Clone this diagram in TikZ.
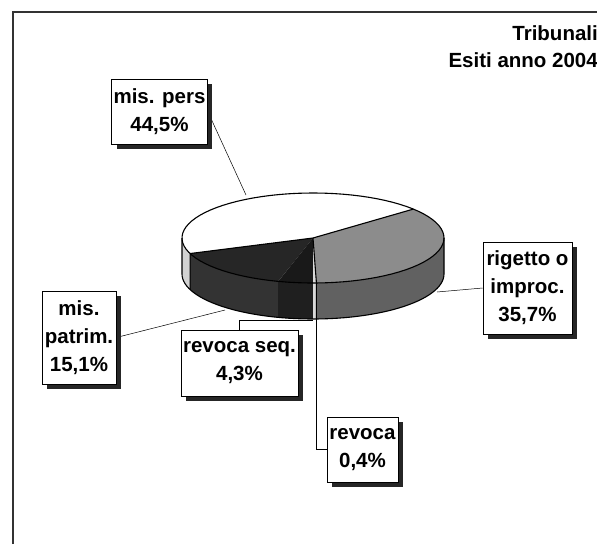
\documentclass[tikz,border=0pt]{standalone}
\usepackage{fontspec}
\setmainfont{Liberation Sans}
\usetikzlibrary{shadows}
\pgfdeclarelayer{back}
\pgfsetlayers{back,main}
\newcommand{\piewedge}[3]{\fill[#1] (313,238) -- plot[domain=#2:#3, samples=40] ({313+131*cos(\x)},{238-45*sin(\x)}) -- cycle;}
\newcommand{\pieband}[3]{\fill[#1] plot[domain=#2:#3, samples=30] ({313+131*cos(\x)},{238-45*sin(\x)}) -- plot[domain=#3:#2, samples=30] ({313+131*cos(\x)},{274-45*sin(\x)}) -- cycle;}

\begin{document}
\begin{tikzpicture}[x=1pt, y=-1pt,
    lbl/.style={draw, fill=white, line width=0.6pt, align=center, inner sep=2pt,
      font=\fontsize{20.5}{28}\selectfont\bfseries,
      drop shadow={shadow xshift=5pt, shadow yshift=-5pt, opacity=1, fill=black!85}},
    lead/.style={line width=0.5pt},
    rim/.style={line width=1.1pt, line join=round}]
        \useasboundingbox (0,0) rectangle (597,544);
        \clip (0,0) rectangle (597,544);
        \draw [line width=1.2pt, black!80] (13,544) -- (13,12) -- (597,12);
        \node [anchor=north east, align=right, inner sep=0pt, font=\fontsize{20.5}{27}\selectfont\bfseries] (title) at (598,25) {Tribunali\\Esiti anno 2004};

        \coordinate (persend) at (246,195);
        \coordinate (patrimend) at (225,310);
        \coordinate (seqend) at (313,320);
        \coordinate (revend) at (316,318);
        \coordinate (rigend) at (437,292);

        \pieband{gray!35}{180}{200.2}
        \pieband{black!80}{200.2}{254.6}
        \pieband{black!88}{254.6}{270.1}
        \pieband{gray!30}{270.1}{271.5}
        \pieband{black!62}{271.5}{360}
        \piewedge{white}{40}{200.2}
        \piewedge{black!85}{200.2}{254.6}
        \piewedge{black!90}{254.6}{270.1}
        \piewedge{gray!30}{270.1}{271.5}
        \piewedge{black!45}{271.5}{400}
        \draw [rim] plot[domain=0:360, samples=90] ({313+131*cos(\x)},{238-45*sin(\x)});
        \draw [rim] (182,238) -- plot[domain=180:360, samples=60] ({313+131*cos(\x)},{274-45*sin(\x)}) -- (444,238);
        \draw [rim] ({313+131*cos(40)},{238-45*sin(40)}) -- (313,238) -- ({313+131*cos(200.2)},{238-45*sin(200.2)}) -- ++(0,36);
        \draw [rim] (313,238) -- ({313+131*cos(271.5)},{238-45*sin(271.5)}) -- ++(0,36);

        \node [lbl, minimum width=95pt, minimum height=65pt] (pers) at (159.5,111.5) {mis. pers\\44,5\%};
        \node [lbl, minimum width=74pt, minimum height=93pt] (patrim) at (79,337.5) {mis.\\patrim.\\15,1\%};
        \node [lbl, minimum width=117pt, minimum height=66pt] (seq) at (239.5,363) {revoca seq.\\4,3\%};
        \node [lbl, minimum width=71pt, minimum height=65pt] (rev) at (362.5,449.5) {revoca\\0,4\%};
        \node [lbl, minimum width=89pt, minimum height=92pt] (rig) at (527.5,288) {rigetto o\\improc.\\35,7\%};

        \begin{pgfonlayer}{back}
        \draw [lead] (pers.east) -- (persend);
        \draw [lead] (patrim.east) -- (patrimend);
        \draw [lead] (seq.north) |- (seqend);
        \draw [lead] (revend) |- (rev.west);
        \draw [lead] (rig.west) -- (rigend);
        \end{pgfonlayer}
\end{tikzpicture}
\end{document}
